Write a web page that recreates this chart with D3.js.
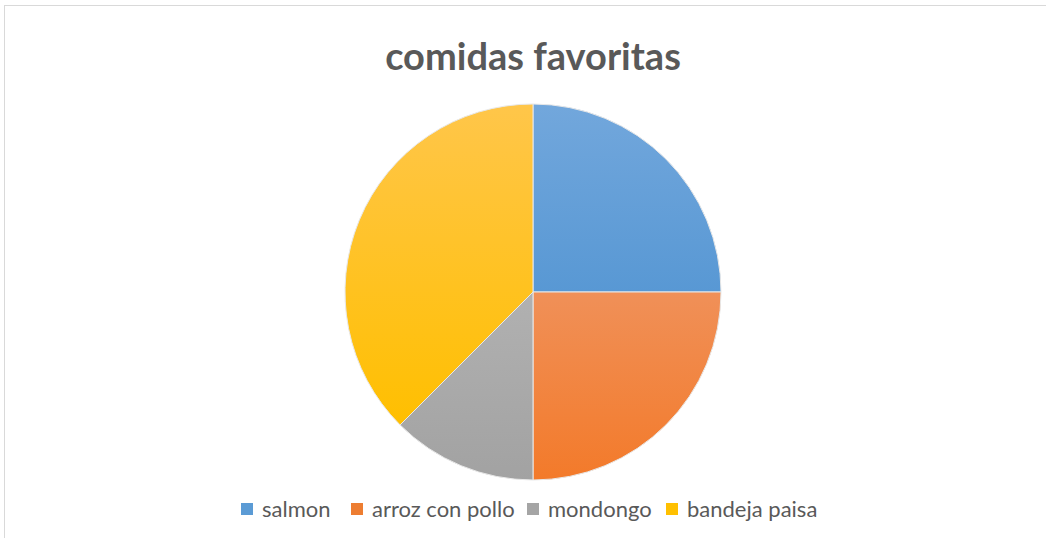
<!DOCTYPE html>
<html>
<head>
<meta charset="utf-8">
<script src="https://cdn.jsdelivr.net/npm/d3@7"></script>
<style>
  body { margin: 0; background: #fff; }
  text { font-family: Lato, "Open Sans", sans-serif; }
</style>
</head>
<body>
<div id="chart"></div>
<script>
var width = 1046;
var height = 538;

var categories = ["salmon", "arroz con pollo", "mondongo", "bandeja paisa"];
var values = [2, 2, 1, 3];
var colorsTop = ["#72a7dc", "#f09058", "#b1b1b1", "#ffc64a"];
var colorsBottom = ["#5898d4", "#f37a2a", "#a2a2a2", "#ffbf00"];
var legendColors = ["#5b9bd5", "#ed7d31", "#a5a5a5", "#ffc000"];

var cx = 533, cy = 292, radius = 188;

var svg = d3.select("#chart").append("svg")
  .attr("width", width)
  .attr("height", height);

// chart frame, only top and left edges are visible
svg.append("rect")
  .attr("x", 4.5).attr("y", 5.5)
  .attr("width", width + 10).attr("height", height + 10)
  .attr("fill", "#fff")
  .attr("stroke", "#d9d9d9")
  .attr("stroke-width", 1);

var defs = svg.append("defs");
categories.forEach(function(c, i) {
  var g = defs.append("linearGradient")
    .attr("id", "grad" + i)
    .attr("x1", 0).attr("y1", 0).attr("x2", 0).attr("y2", 1);
  g.append("stop").attr("offset", "0%").attr("stop-color", colorsTop[i]);
  g.append("stop").attr("offset", "100%").attr("stop-color", colorsBottom[i]);
});

svg.append("text")
  .attr("x", cx)
  .attr("y", 70)
  .attr("text-anchor", "middle")
  .attr("font-size", "38px")
  .attr("font-weight", "bold")
  .attr("fill", "#595959")
  .text("comidas favoritas");

var pie = d3.pie().sort(null).value(function(d) { return d; });
var arc = d3.arc().innerRadius(0).outerRadius(radius);

svg.append("g")
  .attr("transform", "translate(" + cx + "," + cy + ")")
  .selectAll("path")
  .data(pie(values))
  .enter()
  .append("path")
  .attr("d", arc)
  .attr("fill", function(d, i) { return "url(#grad" + i + ")"; })
  .attr("stroke", "#e8e8e8")
  .attr("stroke-width", 1);

// legend
var legendX = [241, 351, 527, 666];
var legend = svg.append("g");
categories.forEach(function(c, i) {
  var g = legend.append("g").attr("transform", "translate(" + legendX[i] + ",503)");
  g.append("rect")
    .attr("width", 12).attr("height", 12)
    .attr("fill", legendColors[i]);
  g.append("text")
    .attr("x", 21)
    .attr("y", 14)
    .attr("font-size", "22px")
    .attr("fill", "#595959")
    .text(c);
});
</script>
</body>
</html>
